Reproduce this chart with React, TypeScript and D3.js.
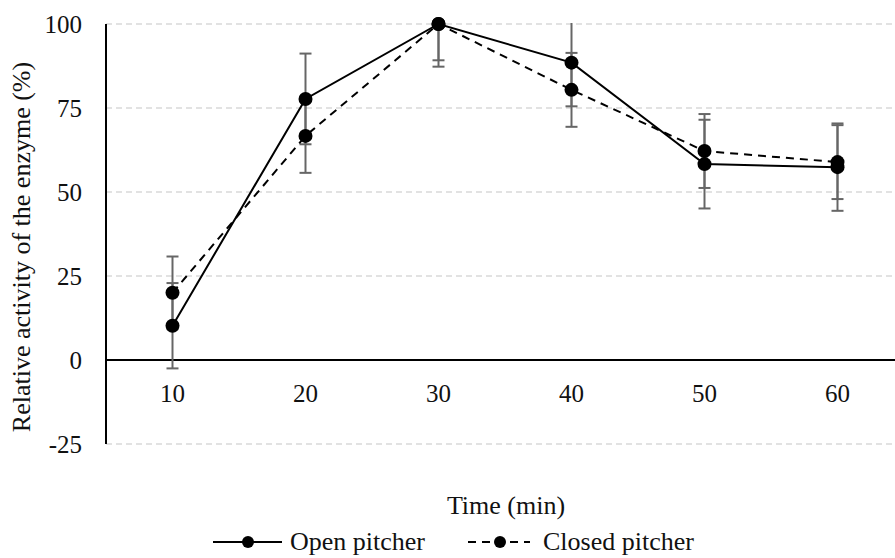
import React from "react";
import * as d3 from "d3";

const times = ["10", "20", "30", "40", "50", "60"];
const openValues = [10.2, 77.7, 100, 88.5, 58.3, 57.4];
const openErrors = [12.7, 13.5, 12.7, 13, 13.2, 13];
const closedValues = [20, 66.7, 100, 80.4, 62.2, 58.9];
const closedErrors = [10.8, 11, 10.8, 11, 11, 11];
const yTicks = [-25, 0, 25, 50, 75, 100];

const W = 895;
const H = 558;
const txt: React.CSSProperties = { fontFamily: '"Liberation Serif", "Times New Roman", serif' };

export default function App() {
  const x = d3.scalePoint<string>().domain(times).range([106, 904]).padding(0.5);
  const y = d3.scaleLinear().domain([-25, 100]).range([444, 24]);

  const line = d3
    .line<number>()
    .x((_, i) => x(times[i]) as number)
    .y((d) => y(d));

  const series = [
    { name: "Open pitcher", values: openValues, errors: openErrors, dash: "none" },
    { name: "Closed pitcher", values: closedValues, errors: closedErrors, dash: "8,6" },
  ];

  return (
    <svg
      width={W}
      height={H}
      style={{ position: "absolute", left: 0, top: 0, background: "#fff" }}
    >
      <defs>
        <clipPath id="plot">
          <rect x={106} y={y(100) - 1} width={W - 106} height={y(-25) - y(100) + 2} />
        </clipPath>
      </defs>

      {/* gridlines */}
      {yTicks
        .filter((t) => t !== 0)
        .map((t) => (
          <line
            key={t}
            x1={106}
            x2={W}
            y1={y(t)}
            y2={y(t)}
            stroke="#d9d9d9"
            strokeWidth={1.5}
            strokeDasharray="6,4"
          />
        ))}

      {/* axes */}
      <line x1={106} x2={106} y1={y(100)} y2={y(-25)} stroke="#000" strokeWidth={2} />
      <line x1={106} x2={W} y1={y(0)} y2={y(0)} stroke="#000" strokeWidth={2} />

      {yTicks.map((t) => (
        <text key={t} x={82} y={y(t)} dy="0.34em" textAnchor="end" fontSize={25} fill="#111" style={txt}>
          {t}
        </text>
      ))}
      {times.map((t) => (
        <text key={t} x={x(t)} y={393} dy="0.34em" textAnchor="middle" fontSize={25} fill="#111" style={txt}>
          {t}
        </text>
      ))}

      {/* error bars */}
      <g clipPath="url(#plot)" stroke="#666" strokeWidth={2}>
        {series.map((s) =>
          s.values.map((v, i) => {
            const cx = x(times[i]) as number;
            const top = y(v + s.errors[i]);
            const bot = y(v - s.errors[i]);
            return (
              <g key={s.name + i}>
                <line x1={cx} x2={cx} y1={top} y2={bot} />
                <line x1={cx - 6} x2={cx + 6} y1={top} y2={top} />
                <line x1={cx - 6} x2={cx + 6} y1={bot} y2={bot} />
              </g>
            );
          })
        )}
      </g>

      {/* lines */}
      {series.map((s) => (
        <path
          key={s.name}
          d={line(s.values) ?? ""}
          fill="none"
          stroke="#000"
          strokeWidth={2}
          strokeDasharray={s.dash}
        />
      ))}
      {series.map((s) =>
        s.values.map((v, i) => (
          <circle key={s.name + "m" + i} cx={x(times[i])} cy={y(v)} r={7} fill="#000" />
        ))
      )}

      {/* axis titles */}
      <text x={506} y={514} textAnchor="middle" fontSize={26} fill="#111" style={txt}>
        Time (min)
      </text>
      <text
        transform="translate(30, 247) rotate(-90)"
        textAnchor="middle"
        fontSize={26}
        fill="#111"
        style={txt}
      >
        Relative activity of the enzyme (%)
      </text>

      {/* legend */}
      <g>
        <line x1={213} x2={282} y1={542} y2={542} stroke="#000" strokeWidth={2} />
        <circle cx={248} cy={542} r={6} fill="#000" />
        <text x={290} y={550} fontSize={26} fill="#111" style={txt}>
          Open pitcher
        </text>
        <line
          x1={468}
          x2={530}
          y1={542}
          y2={542}
          stroke="#000"
          strokeWidth={2}
          strokeDasharray="8,6"
        />
        <circle cx={500} cy={542} r={6} fill="#000" />
        <text x={543} y={550} fontSize={26} fill="#111" style={txt}>
          Closed pitcher
        </text>
      </g>
    </svg>
  );
}
